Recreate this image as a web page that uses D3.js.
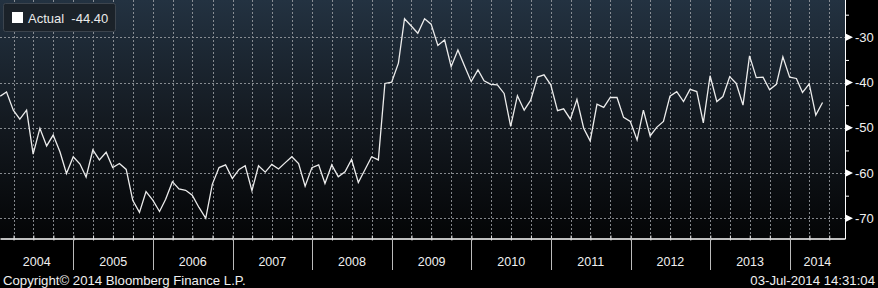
<!DOCTYPE html>
<html>
<head>
<meta charset="utf-8">
<script src="https://cdn.jsdelivr.net/npm/d3@7"></script>
<style>
  html, body { margin: 0; padding: 0; background: #000; }
  svg { display: block; font-family: "Liberation Sans", Arial, sans-serif; }
</style>
</head>
<body>
<div id="chart"></div>
<script>
// monthly readings, Jan 2004 .. May 2014 (month end)
const firstMonth = '2004-01'
const actual = [
  -43.0, -42.1, -46.1, -48.1, -46.1, -55.8, -50.1, -54.0, -51.6, -55.3, -60.1, -56.4,
  -58.0, -60.9, -54.9, -57.1, -55.4, -58.8, -57.9, -59.2, -66.0, -68.7, -64.1, -66.0,
  -68.5, -65.8, -61.9, -63.5, -63.8, -64.9, -67.6, -70.0, -62.5, -58.8, -58.2, -61.2,
  -59.2, -58.4, -63.9, -58.4, -59.8, -58.1, -59.1, -57.7, -56.4, -57.9, -62.9, -58.8,
  -58.2, -62.3, -58.2, -60.8, -59.7, -57.0, -62.1, -59.2, -56.4, -57.1, -40.2, -39.9,
  -35.7, -25.9, -27.5, -29.1, -25.9, -27.1, -31.8, -30.6, -36.5, -32.8, -36.3, -39.8,
  -37.2, -39.6, -40.4, -40.5, -42.4, -49.7, -42.9, -46.1, -43.9, -38.8, -38.3, -40.5,
  -46.2, -45.8, -48.1, -43.7, -50.1, -52.9, -44.8, -45.5, -43.3, -43.3, -47.7, -48.6,
  -52.7, -46.1, -51.8, -49.9, -48.6, -43.0, -42.0, -44.2, -41.5, -42.0, -48.9, -38.5,
  -44.2, -43.1, -38.7, -40.2, -45.0, -34.1, -38.9, -38.8, -41.6, -40.4, -34.3, -38.8,
  -39.1, -42.2, -40.3, -47.2, -44.4
]
const years = ['2004', '2005', '2006', '2007', '2008', '2009', '2010', '2011', '2012', '2013', '2014']
const majorTicks = [-30, -40, -50, -60, -70]
const minorTicks = [-25, -35, -45, -55, -65]
const seriesName = 'Actual'
const lastValue = '-44.40'
const copyright = 'Copyright\u00a9 2014 Bloomberg Finance L.P.'
const stamp = '03-Jul-2014 14:31:04'

width = 878
height = 288
plotW = 845
plotH = 238

const parseMonth = d3.timeParse('%Y-%m')
const start = parseMonth(firstMonth)
const points = actual.map((v, i) => {
  // last day of the month
  let d = d3.timeDay.offset(d3.timeMonth.offset(start, i + 1), -1)
  return [d, v]
})

let xScale = d3.scaleTime()
  .domain([new Date(2004, 0, 30), new Date(2014, 8, 11)])
  .range([0, plotW])

let yScale = d3.scaleLinear()
  .domain([-70, -30])
  .range([218.3, 37.3])

const svg = d3.select('#chart')
  .append('svg')
  .attr('width', width)
  .attr('height', height)

const defs = svg.append('defs')
const grad = defs.append('linearGradient')
  .attr('id', 'bg')
  .attr('x1', 0).attr('y1', 0).attr('x2', 0).attr('y2', 1)
grad.append('stop').attr('offset', '0%').attr('stop-color', '#233241')
grad.append('stop').attr('offset', '50%').attr('stop-color', '#141a21')
grad.append('stop').attr('offset', '100%').attr('stop-color', '#040506')

defs.append('clipPath').attr('id', 'clip')
  .append('rect').attr('width', plotW).attr('height', plotH)

svg.append('rect').attr('width', width).attr('height', height).attr('fill', '#000')
svg.append('rect').attr('width', plotW).attr('height', plotH).attr('fill', 'url(#bg)')

// grid
const quarters = d3.timeMonth.every(3).range(xScale.domain()[0], xScale.domain()[1])
const grid = svg.append('g').attr('stroke', '#9a9ea3').attr('stroke-width', 1)
  .attr('stroke-dasharray', '2,2').attr('opacity', 0.85)
grid.selectAll('line.v')
  .data(quarters)
  .enter()
  .append('line')
  .attr('x1', d => Math.round(xScale(d)) + 0.5)
  .attr('x2', d => Math.round(xScale(d)) + 0.5)
  .attr('y1', 0)
  .attr('y2', plotH)
grid.selectAll('line.h')
  .data(majorTicks)
  .enter()
  .append('line')
  .attr('x1', 0)
  .attr('x2', plotW)
  .attr('y1', d => Math.round(yScale(d)) + 0.5)
  .attr('y2', d => Math.round(yScale(d)) + 0.5)

// line
const line = d3.line()
  .x(d => xScale(d[0]))
  .y(d => yScale(d[1]))

svg.append('path')
  .datum(points)
  .attr('clip-path', 'url(#clip)')
  .attr('fill', 'none')
  .attr('stroke', '#ececec')
  .attr('stroke-width', 1.3)
  .attr('stroke-linejoin', 'miter')
  .attr('d', line)

// bottom axis with quarterly crossing ticks
let xAxis = d3.axisBottom(xScale)
  .tickValues(quarters)
  .tickSize(2)
  .tickSizeOuter(0)
  .tickFormat('')

const xg = svg.append('g')
  .attr('transform', 'translate(0, ' + (plotH + 0.5) + ')')
  .call(xAxis)
xg.select('.domain').attr('stroke', '#fff').attr('stroke-width', 1.5)
xg.selectAll('.tick line').attr('stroke', '#ddd').attr('y1', -3)

// year dividers and labels
const yearStarts = years.map(y => new Date(+y, 0, 1))
svg.append('g')
  .selectAll('line')
  .data(yearStarts.filter(d => xScale(d) > 0))
  .enter()
  .append('line')
  .attr('x1', d => Math.round(xScale(d)) + 0.5)
  .attr('x2', d => Math.round(xScale(d)) + 0.5)
  .attr('y1', plotH)
  .attr('y2', 270)
  .attr('stroke', '#bbb')
  .attr('stroke-width', 1)

svg.append('g')
  .selectAll('text')
  .data(years)
  .enter()
  .append('text')
  .attr('x', d => {
    let a = Math.max(0, xScale(new Date(+d, 0, 1)))
    let b = Math.min(plotW, xScale(new Date(+d + 1, 0, 1)))
    return (a + b) / 2
  })
  .attr('y', 266)
  .attr('text-anchor', 'middle')
  .attr('fill', '#f0f0f0')
  .attr('font-size', 12.5)
  .text(d => d)

// right axis
svg.append('line')
  .attr('x1', plotW + 0.5).attr('x2', plotW + 0.5)
  .attr('y1', 0).attr('y2', plotH + 1)
  .attr('stroke', '#fff').attr('stroke-width', 1)

let yAxis = d3.axisRight(yScale)
  .tickValues(minorTicks)
  .tickSize(3)
  .tickFormat('')
const yg = svg.append('g')
  .attr('transform', 'translate(' + (plotW + 1) + ', 0)')
  .call(yAxis)
yg.select('.domain').remove()
yg.selectAll('.tick line').attr('stroke', '#fff')

const major = svg.append('g')
  .selectAll('g')
  .data(majorTicks)
  .enter()
  .append('g')
  .attr('transform', d => 'translate(' + (plotW + 1) + ',' + yScale(d) + ')')
major.append('path')
  .attr('d', 'M0,-3.5L0,3.5L7,0Z')
  .attr('fill', '#fff')
major.append('text')
  .attr('x', 9)
  .attr('dy', '0.36em')
  .attr('fill', '#f0f0f0')
  .attr('font-size', 13)
  .text(d => d3.format('d')(d).replace('\u2212', '-'))

// legend
const legend = svg.append('g')
legend.append('rect')
  .attr('x', 3.5).attr('y', 3.5)
  .attr('width', 112).attr('height', 28)
  .attr('rx', 2)
  .attr('fill', '#1b2229')
  .attr('stroke', '#3c444d')
legend.append('rect')
  .attr('x', 12).attr('y', 12)
  .attr('width', 11).attr('height', 11)
  .attr('fill', '#fff')
legend.append('text')
  .attr('x', 28).attr('y', 22.5)
  .attr('fill', '#eaeaea')
  .attr('font-size', 13)
  .text(seriesName + '  ' + lastValue)
  .attr('xml:space', 'preserve')
  .style('white-space', 'pre')

// footer
svg.append('text')
  .attr('x', 3).attr('y', 285)
  .attr('fill', '#f0f0f0')
  .attr('font-size', 13.2)
  .text(copyright)
svg.append('text')
  .attr('x', 875).attr('y', 285)
  .attr('text-anchor', 'end')
  .attr('fill', '#f0f0f0')
  .attr('font-size', 13.2)
  .text(stamp)
</script>
</body>
</html>
